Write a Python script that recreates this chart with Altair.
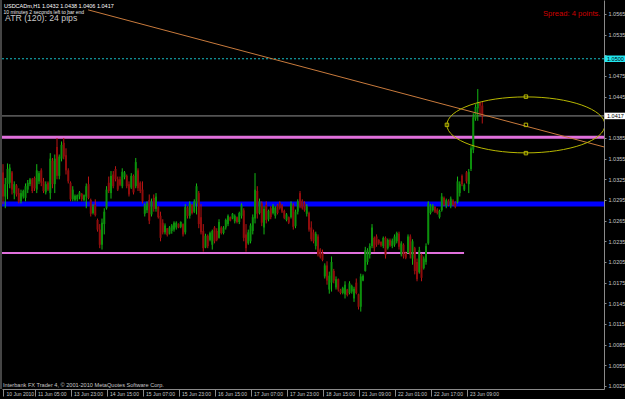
import altair as alt
import pandas as pd

# ---------------- data (USDCADm, H1) ----------------
opens = [1.0335,1.0300,1.0318,1.0320,1.0335,1.0305,1.0316,1.0305,1.0293,1.0300,
         1.0298,1.0310,1.0318,1.0325,1.0327,1.0310,1.0322,1.0338,1.0322,1.0306,
         1.0320,1.0305,1.0352,1.0318,1.0372,1.0330,1.0355,1.0378,1.0360,1.0338,
         1.0320,1.0296,1.0295,1.0296,1.0300,1.0304,1.0295,1.0300,1.0318,1.0295,
         1.0276,1.0288,1.0266,1.0252,1.0230,1.0260,1.0283,1.0320,1.0305,1.0332,
         1.0340,1.0325,1.0325,1.0315,1.0328,1.0330,1.0318,1.0313,1.0330,1.0315,
         1.0338,1.0320,1.0310,1.0275,1.0280,1.0295,1.0274,1.0298,1.0282,1.0285,
         1.0272,1.0262,1.0248,1.0254,1.0246,1.0250,1.0252,1.0255,1.0260,1.0256,
         1.0260,1.0248,1.0284,1.0272,1.0288,1.0278,1.0290,1.0305,1.0270,1.0250,
         1.0226,1.0243,1.0237,1.0230,1.0255,1.0250,1.0240,1.0255,1.0247,1.0255,
         1.0260,1.0270,1.0268,1.0264,1.0270,1.0263,1.0272,1.0280,1.0245,1.0232,
         1.0235,1.0250,1.0268,1.0308,1.0276,1.0290,1.0255,1.0288,1.0267,1.0283,
         1.0276,1.0272,1.0287,1.0291,1.0287,1.0279,1.0266,1.0270,1.0270,1.0287,
         1.0257,1.0278,1.0305,1.0294,1.0290,1.0275,1.0276,1.0255,1.0248,1.0228,
         1.0242,1.0223,1.0218,1.0184,1.0200,1.0165,1.0175,1.0192,1.0168,1.0180,
         1.0165,1.0160,1.0158,1.0165,1.0160,1.0162,1.0152,1.0175,1.0158,1.0140,
         1.0178,1.0192,1.0205,1.0215,1.0228,1.0240,1.0242,1.0237,1.0234,1.0228,
         1.0240,1.0225,1.0237,1.0228,1.0230,1.0235,1.0246,1.0216,1.0230,1.0218,
         1.0218,1.0242,1.0210,1.0225,1.0205,1.0190,1.0215,1.0196,1.0205,1.0232,
         1.0276,1.0280,1.0285,1.0281,1.0270,1.0280,1.0298,1.0286,1.0294,1.0286,
         1.0294,1.0290,1.0292,1.0305,1.0330,1.0310,1.0335,1.0318,1.0340,1.0368,
         1.0413,1.0428,1.0436,1.0432]
highs = [1.0347,1.0327,1.0348,1.0347,1.0337,1.0322,1.0318,1.0312,1.0310,1.0310,
         1.0319,1.0324,1.0327,1.0327,1.0329,1.0347,1.0337,1.0341,1.0327,1.0322,
         1.0322,1.0363,1.0356,1.0361,1.0385,1.0361,1.0380,1.0385,1.0370,1.0341,
         1.0322,1.0315,1.0303,1.0303,1.0308,1.0305,1.0303,1.0319,1.0329,1.0297,
         1.0289,1.0296,1.0268,1.0260,1.0268,1.0283,1.0315,1.0329,1.0337,1.0337,
         1.0344,1.0329,1.0329,1.0341,1.0337,1.0332,1.0322,1.0334,1.0332,1.0356,
         1.0341,1.0322,1.0322,1.0290,1.0293,1.0303,1.0297,1.0303,1.0305,1.0286,
         1.0278,1.0267,1.0261,1.0254,1.0257,1.0260,1.0264,1.0264,1.0261,1.0264,
         1.0261,1.0289,1.0286,1.0293,1.0289,1.0296,1.0319,1.0308,1.0289,1.0260,
         1.0246,1.0245,1.0249,1.0252,1.0257,1.0254,1.0267,1.0257,1.0257,1.0268,
         1.0274,1.0271,1.0276,1.0274,1.0271,1.0278,1.0290,1.0283,1.0260,1.0252,
         1.0261,1.0274,1.0334,1.0315,1.0297,1.0293,1.0286,1.0293,1.0281,1.0286,
         1.0289,1.0286,1.0289,1.0293,1.0289,1.0281,1.0276,1.0271,1.0293,1.0290,
         1.0281,1.0296,1.0308,1.0296,1.0293,1.0289,1.0278,1.0264,1.0252,1.0249,
         1.0245,1.0225,1.0223,1.0203,1.0206,1.0191,1.0213,1.0195,1.0184,1.0181,
         1.0166,1.0169,1.0177,1.0166,1.0177,1.0172,1.0169,1.0181,1.0159,1.0188,
         1.0187,1.0227,1.0225,1.0232,1.0260,1.0242,1.0245,1.0238,1.0235,1.0242,
         1.0242,1.0239,1.0239,1.0239,1.0245,1.0249,1.0249,1.0235,1.0232,1.0220,
         1.0245,1.0245,1.0238,1.0227,1.0210,1.0227,1.0217,1.0213,1.0232,1.0293,
         1.0289,1.0289,1.0286,1.0283,1.0281,1.0305,1.0300,1.0297,1.0296,1.0300,
         1.0296,1.0293,1.0329,1.0322,1.0332,1.0319,1.0337,1.0340,1.0373,1.0421,
         1.0434,1.0456,1.0437,1.0438]
lows = [1.0289,1.0283,1.0296,1.0312,1.0303,1.0296,1.0300,1.0290,1.0290,1.0297,
        1.0293,1.0305,1.0315,1.0305,1.0308,1.0305,1.0318,1.0315,1.0305,1.0303,
        1.0308,1.0296,1.0312,1.0305,1.0325,1.0325,1.0351,1.0354,1.0332,1.0319,
        1.0293,1.0293,1.0293,1.0293,1.0296,1.0293,1.0293,1.0283,1.0296,1.0271,
        1.0274,1.0271,1.0249,1.0225,1.0223,1.0245,1.0281,1.0305,1.0297,1.0312,
        1.0322,1.0308,1.0315,1.0312,1.0325,1.0312,1.0300,1.0311,1.0303,1.0312,
        1.0308,1.0305,1.0290,1.0271,1.0276,1.0260,1.0271,1.0278,1.0278,1.0268,
        1.0235,1.0245,1.0245,1.0242,1.0245,1.0246,1.0249,1.0252,1.0254,1.0254,
        1.0242,1.0245,1.0268,1.0268,1.0274,1.0276,1.0274,1.0254,1.0245,1.0220,
        1.0225,1.0225,1.0235,1.0223,1.0232,1.0235,1.0239,1.0245,1.0245,1.0252,
        1.0257,1.0264,1.0267,1.0261,1.0261,1.0260,1.0268,1.0235,1.0220,1.0230,
        1.0232,1.0245,1.0261,1.0268,1.0274,1.0257,1.0245,1.0261,1.0264,1.0267,
        1.0274,1.0268,1.0274,1.0281,1.0276,1.0267,1.0264,1.0260,1.0268,1.0252,
        1.0254,1.0274,1.0283,1.0281,1.0278,1.0271,1.0249,1.0235,1.0232,1.0223,
        1.0213,1.0210,1.0206,1.0181,1.0172,1.0159,1.0162,1.0174,1.0165,1.0162,
        1.0158,1.0158,1.0152,1.0155,1.0158,1.0159,1.0147,1.0158,1.0136,1.0133,
        1.0177,1.0191,1.0201,1.0210,1.0225,1.0220,1.0227,1.0230,1.0227,1.0225,
        1.0210,1.0223,1.0227,1.0225,1.0227,1.0232,1.0223,1.0213,1.0210,1.0209,
        1.0217,1.0210,1.0201,1.0187,1.0177,1.0188,1.0177,1.0194,1.0201,1.0230,
        1.0274,1.0278,1.0276,1.0274,1.0268,1.0278,1.0286,1.0283,1.0286,1.0283,
        1.0286,1.0283,1.0290,1.0300,1.0315,1.0308,1.0319,1.0305,1.0337,1.0363,
        1.0410,1.0410,1.0418,1.0406]
closes = [1.0300,1.0318,1.0340,1.0342,1.0310,1.0318,1.0303,1.0292,1.0305,1.0308,
          1.0315,1.0320,1.0325,1.0308,1.0312,1.0338,1.0334,1.0320,1.0308,1.0318,
          1.0310,1.0355,1.0318,1.0355,1.0330,1.0358,1.0375,1.0358,1.0338,1.0322,
          1.0296,1.0310,1.0301,1.0302,1.0306,1.0296,1.0302,1.0315,1.0298,1.0275,
          1.0286,1.0273,1.0252,1.0230,1.0262,1.0278,1.0310,1.0308,1.0330,1.0315,
          1.0325,1.0310,1.0317,1.0336,1.0335,1.0315,1.0303,1.0330,1.0306,1.0350,
          1.0312,1.0308,1.0293,1.0287,1.0290,1.0265,1.0293,1.0282,1.0300,1.0270,
          1.0240,1.0248,1.0258,1.0244,1.0255,1.0258,1.0262,1.0262,1.0255,1.0263,
          1.0245,1.0285,1.0272,1.0290,1.0276,1.0293,1.0315,1.0260,1.0248,1.0225,
          1.0243,1.0228,1.0247,1.0250,1.0235,1.0237,1.0263,1.0247,1.0255,1.0266,
          1.0272,1.0265,1.0275,1.0272,1.0263,1.0276,1.0288,1.0240,1.0225,1.0248,
          1.0258,1.0270,1.0310,1.0275,1.0293,1.0262,1.0282,1.0266,1.0279,1.0270,
          1.0287,1.0284,1.0276,1.0283,1.0278,1.0269,1.0274,1.0262,1.0290,1.0256,
          1.0278,1.0293,1.0286,1.0283,1.0280,1.0286,1.0252,1.0238,1.0235,1.0246,
          1.0216,1.0212,1.0208,1.0200,1.0178,1.0185,1.0205,1.0178,1.0180,1.0165,
          1.0160,1.0167,1.0172,1.0157,1.0174,1.0170,1.0166,1.0160,1.0140,1.0184,
          1.0185,1.0222,1.0222,1.0228,1.0255,1.0225,1.0230,1.0232,1.0229,1.0240,
          1.0215,1.0237,1.0229,1.0236,1.0242,1.0247,1.0227,1.0232,1.0213,1.0211,
          1.0242,1.0215,1.0235,1.0192,1.0180,1.0222,1.0182,1.0210,1.0228,1.0290,
          1.0287,1.0287,1.0278,1.0276,1.0279,1.0300,1.0288,1.0295,1.0288,1.0297,
          1.0288,1.0285,1.0322,1.0318,1.0318,1.0317,1.0322,1.0336,1.0370,1.0415,
          1.0430,1.0436,1.0432,1.0417]

# time-axis labels (bar index -> label)
x_tick_idx = [0, 14, 30, 46, 62, 78, 94, 110, 126, 142, 158, 174, 190, 206]
x_tick_labels = ["10 Jun 2010", "11 Jun 05:00", "13 Jun 23:00", "14 Jun 15:00",
                 "15 Jun 07:00", "15 Jun 23:00", "16 Jun 15:00", "17 Jun 07:00",
                 "17 Jun 23:00", "18 Jun 15:00", "21 Jun 09:00", "22 Jun 01:00",
                 "22 Jun 17:00", "23 Jun 09:00"]
# price-axis labels (the ones under the price boxes are hidden)
y_ticks = [1.0025, 1.0055, 1.0085, 1.0115, 1.0145, 1.0175, 1.0205, 1.0235,
           1.0265, 1.0295, 1.0325, 1.0355, 1.0385, 1.0415, 1.0445, 1.0475,
           1.0505, 1.0535, 1.0565]
y_hidden = [1.0415, 1.0505]

# horizontal line objects
full_line_prices = [1.0386, 1.0289]
full_line_colors = ["#e070dc", "#0000ff"]
full_line_widths = [3, 5]
seg_line_idx = [-0.45, 204.9]
seg_line_price = [1.0218]
dotted_line_price = [1.0500]
bid_price = [1.0417]

# trend line anchors
trend_idx = [37.8, 267.1]
trend_price = [1.0571, 1.0372]

# ellipse (center) and its selection markers
ellipse_idx = [232.4]
ellipse_price = [1.0404]
marker_idx = [232.4, 232.4, 232.4, 197.3]
marker_price = [1.0445, 1.0404, 1.0363, 1.0404]

# price boxes on the axis
box_prices = [1.0500, 1.0417]
box_labels = ["1.0500", "1.0417"]
box_colors = ["#22e6f0", "#ffffff"]

header_text = ["USDCADm,H1  1.0432 1.0438 1.0406 1.0417"]
timer_text = ["10 minutes 2 seconds left to bar end"]
atr_text = ["ATR (120): 24 pips"]
spread_text = ["Spread: 4 points."]
footer_text = ["Interbank FX Trader 4, \u00a9 2001-2010 MetaQuotes Software Corp."]

# ---------------- chart ----------------
FONT = "Liberation Sans"
W, H = 602, 389
xs = alt.Scale(domain=[-0.45, 267.1], nice=False, zero=False, padding=0)
ys = alt.Scale(domain=[1.00206, 1.05853], nice=False, zero=False, padding=0)

bars = pd.DataFrame({"i": list(range(len(opens))), "o": opens, "h": highs,
                     "l": lows, "c": closes})

labels_js = "[" + ",".join("'" + s + "'" for s in x_tick_labels) + "]"
vals_js = "[" + ",".join(str(v) for v in x_tick_idx) + "]"
hidden_js = "[" + ",".join(str(v) for v in y_hidden) + "]"

x_axis = alt.Axis(values=x_tick_idx, labelExpr=f"{labels_js}[indexof({vals_js}, datum.value)]",
                  title=None, grid=False, domainColor="#8a8a8a", tickColor="#8a8a8a",
                  tickSize=7, labelColor="#c8c8c8", labelFont=FONT, labelFontSize=5,
                  labelAlign="left", labelBaseline="top", labelPadding=-5, labelOffset=3,
                  labelFlush=False, labelOverlap=False, labelBound=False)
y_axis = alt.Axis(orient="right", values=y_ticks,
                  labelExpr=f"indexof({hidden_js}, datum.value) >= 0 ? '' : format(datum.value, '.4f')",
                  title=None, grid=False,
                  domainColor="#8a8a8a", tickColor="#8a8a8a", tickSize=2, labelPadding=2,
                  labelColor="#c8c8c8", labelFont=FONT, labelFontSize=5.5,
                  labelBaseline="middle", labelOverlap=False, labelBound=False,
                  labelFlush=False)


def X(field):
    return alt.X(field, scale=xs, axis=x_axis)


def Y(field):
    return alt.Y(field, scale=ys, axis=y_axis)


up = alt.datum.c >= alt.datum.o

full_df = pd.DataFrame({"p": full_line_prices, "col": full_line_colors, "w": full_line_widths})
full_lines = alt.Chart(full_df).mark_rule().encode(
    y=Y("p:Q"),
    color=alt.Color("col:N", scale=None),
    strokeWidth=alt.StrokeWidth("w:Q", scale=None))

seg_df = pd.DataFrame({"x1": [seg_line_idx[0]], "x2": [seg_line_idx[1]], "p": seg_line_price})
seg_line = alt.Chart(seg_df).mark_rule(color="#e070dc", strokeWidth=2).encode(
    x=X("x1:Q"), x2="x2:Q", y=Y("p:Q"))

dotted = alt.Chart(pd.DataFrame({"p": dotted_line_price})).mark_rule(
    color="#16bcc4", strokeWidth=1, strokeDash=[2, 2]).encode(y=Y("p:Q"))
bid = alt.Chart(pd.DataFrame({"p": bid_price})).mark_rule(
    color="#909090", strokeWidth=1).encode(y=Y("p:Q"))

wicks = alt.Chart(bars).mark_rule(strokeWidth=1).encode(
    x=X("i:Q"), y=Y("l:Q"), y2="h:Q",
    color=alt.condition(up, alt.value("#14b814"), alt.value("#b81414")))
bodies = alt.Chart(bars).mark_bar(size=2, minBandSize=1).encode(
    x=X("i:Q"), y=Y("o:Q"), y2="c:Q",
    color=alt.condition(up, alt.value("#0c900c"), alt.value("#900c0c")))

trend = alt.Chart(pd.DataFrame({"i": trend_idx, "p": trend_price})).mark_line(
    color="#c87a3c", strokeWidth=1, clip=True).encode(x=X("i:Q"), y=Y("p:Q"))

ell_shape = "M -1 0 A 1 0.3544 0 1 1 1 0 A 1 0.3544 0 1 1 -1 0 Z"
ellipse = alt.Chart(pd.DataFrame({"i": ellipse_idx, "p": ellipse_price})).mark_point(
    shape=ell_shape, size=158 * 158, filled=False, color="#b8b800", strokeWidth=1,
    opacity=1, clip=True).encode(x=X("i:Q"), y=Y("p:Q"))
markers = alt.Chart(pd.DataFrame({"i": marker_idx, "p": marker_price})).mark_point(
    shape="square", size=12, filled=False, color="#b8b800", strokeWidth=1, opacity=1).encode(
    x=X("i:Q"), y=Y("p:Q"))

box_df = pd.DataFrame({"p": box_prices, "t": box_labels, "col": box_colors})
boxes = alt.Chart(box_df).mark_rule(strokeWidth=6.5).encode(
    x=alt.value(602.5), x2=alt.value(624), y=Y("p:Q"),
    color=alt.Color("col:N", scale=None))
box_text = alt.Chart(box_df).mark_text(
    align="left", baseline="middle", font=FONT, fontSize=5.5, color="#000000").encode(
    x=alt.value(605), y=Y("p:Q"), text="t:N")

left_border = alt.Chart(pd.DataFrame({"k": [0]})).mark_rule(color="#8a8a8a").encode(
    x=alt.value(-1), y=alt.value(0), y2=alt.value(H))


def label(txt, x, y, size, color):
    return alt.Chart(pd.DataFrame({"t": txt})).mark_text(
        align="left", baseline="alphabetic", font=FONT, fontSize=size, color=color
    ).encode(x=alt.value(x), y=alt.value(y), text="t:N")


texts = [
    label(header_text, 2, 8, 5.5, "#ffffff"),
    label(timer_text, 1.5, 13.8, 5.0, "#e8e8e8"),
    label(atr_text, 3, 21.3, 8.7, "#c8c8c8"),
    label(spread_text, 541, 15.5, 7.6, "#d00000"),
    label(footer_text, 1, 386.5, 5.6, "#c8c8c8"),
]

chart = alt.layer(
    full_lines, seg_line, dotted, bid, wicks, bodies, trend, ellipse, markers,
    boxes, box_text, left_border, *texts
).properties(
    width=W, height=H,
    padding={"left": 2, "top": 0, "right": 21, "bottom": 10},
    autosize=alt.AutoSizeParams(type="none"),
    background="#000000",
).configure_view(stroke=None)

chart.save("out.html", embed_options={"renderer": "svg", "actions": False})
